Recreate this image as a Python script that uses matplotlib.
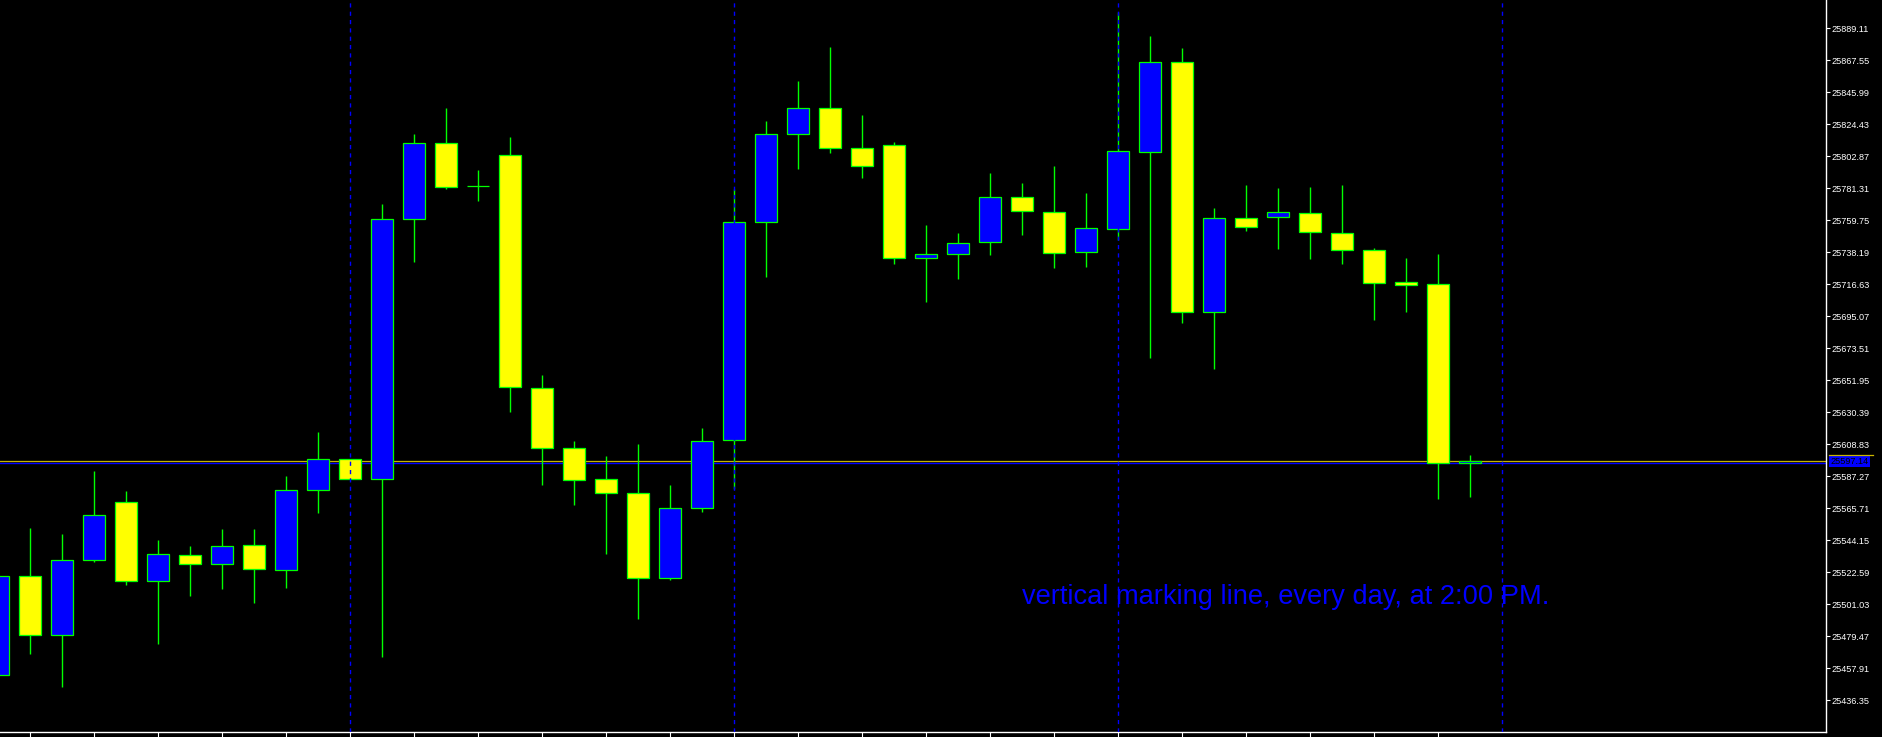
import matplotlib
matplotlib.use("Agg")
import matplotlib.pyplot as plt
from matplotlib.lines import Line2D
import matplotlib.transforms as mtransforms
import numpy as np

plt.rcParams['font.family'] = ['Liberation Sans', 'DejaVu Sans']

# ---- data (bar index -1 .. 45, H2 bars) ----
bar_index = list(range(-1, 46))
opens = [25453.00, 25519.74, 25479.97, 25530.52, 25569.62, 25516.37, 25533.89, 25527.83,
         25540.63, 25523.79, 25577.70, 25598.60, 25585.12, 25760.37, 25811.60, 25782.50,
         25803.51, 25646.46, 25606.02, 25585.12, 25575.69, 25518.39, 25565.57, 25611.41,
         25758.35, 25817.67, 25835.19, 25808.23, 25810.25, 25734.08, 25736.78, 25744.87,
         25775.20, 25765.09, 25738.13, 25754.04, 25805.53, 25866.20, 25697.68, 25761.05,
         25761.72, 25764.42, 25750.94, 25739.47, 25717.91, 25716.56, 25595.91]
highs = [25519.74, 25552.30, 25548.25, 25590.72, 25577.24, 25544.21, 25540.16, 25551.62,
         25551.62, 25587.35, 25617.00, 25598.60, 25770.69, 25817.87, 25835.39, 25793.60,
         25815.85, 25655.42, 25610.94, 25600.83, 25608.92, 25581.28, 25619.70, 25780.59,
         25826.63, 25853.59, 25876.51, 25830.68, 25812.48, 25756.53, 25751.14, 25791.58,
         25784.84, 25796.30, 25778.10, 25900.00, 25883.92, 25875.84, 25767.99, 25783.49,
         25781.47, 25782.14, 25783.49, 25740.82, 25734.29, 25736.98, 25601.50]
lows = [25453.00, 25467.57, 25444.92, 25529.58, 25514.08, 25474.31, 25506.66, 25511.39,
        25501.95, 25512.06, 25562.61, 25585.12, 25465.55, 25731.79, 25781.00, 25772.91,
        25630.69, 25581.48, 25568.00, 25534.98, 25491.16, 25517.45, 25563.28, 25578.38,
        25721.68, 25794.48, 25805.26, 25788.41, 25730.45, 25704.83, 25720.34, 25736.51,
        25749.99, 25727.75, 25728.42, 25746.42, 25667.08, 25690.68, 25659.67, 25752.69,
        25740.35, 25733.61, 25730.45, 25692.70, 25698.10, 25571.84, 25573.37]
closes = [25519.74, 25479.97, 25530.52, 25560.86, 25516.37, 25534.57, 25527.83, 25539.96,
          25524.46, 25577.70, 25598.60, 25585.12, 25760.37, 25811.60, 25782.35, 25782.50,
          25647.13, 25606.02, 25584.44, 25575.69, 25518.39, 25565.57, 25610.74, 25758.35,
          25817.67, 25835.19, 25808.23, 25796.10, 25734.08, 25736.78, 25744.20, 25775.20,
          25765.77, 25737.46, 25754.31, 25806.21, 25866.20, 25697.68, 25761.05, 25754.98,
          25765.09, 25751.61, 25739.47, 25717.23, 25715.88, 25595.91, 25597.14]

price_ticks = [25436.35, 25457.91, 25479.47, 25501.03, 25522.59, 25544.15, 25565.71,
               25587.27, 25608.83, 25630.39, 25651.95, 25673.51, 25695.07, 25716.63,
               25738.19, 25759.75, 25781.31, 25802.87, 25824.43, 25845.99, 25867.55,
               25889.11]
day_marks = [10, 22, 34, 46]          # 14:00 bars
time_ticks = list(range(0, 45, 2))
bid_price = 25597.14
hline_price = 25596.30
note = "vertical marking line, every day, at 2:00 PM."

# ---- figure ----
W, H = 1882, 737
fig = plt.figure(figsize=(W / 100, H / 100), dpi=100, facecolor='black')
ax = fig.add_axes([0, 5 / H, 1826 / W, 732 / H], facecolor='black')

GREEN = '#00FF00'
BLUE = '#0000FF'
YELLOW = '#FFFF00'
GOLD = '#C8B400'

x = np.array(bar_index, dtype=float)
o = np.array(opens); c = np.array(closes)
hi = np.array(highs); lo = np.array(lows)

ax.axhline(hline_price, color=BLUE, lw=1.0, zorder=1)
ax.axhline(bid_price, color=GOLD, lw=0.9, zorder=1.1)

ax.vlines(x, lo, hi, color=GREEN, lw=1.0, zorder=2)
cols = [BLUE if cc >= oo else YELLOW for oo, cc in zip(o, c)]
ax.bar(x, c - o, bottom=o, width=0.6875, color=cols, edgecolor=GREEN,
       linewidth=0.9, zorder=3)

for d in day_marks:
    ax.axvline(d, color=BLUE, lw=1.0, linestyle=(0, (3, 3)), zorder=4)

ax.text(1022 / 1826, (732 - 604) / 732, note, transform=ax.transAxes,
        color=BLUE, fontsize=19.6, va='baseline', ha='left', zorder=5)

ax.set_xlim((0 - 30.3) / 32, (1826 - 30.3) / 32)
ax.set_ylim(25414.79, 25908.19)

ax.yaxis.tick_right()
ax.set_yticks(price_ticks)
ax.set_yticklabels([f"{v:.2f}" for v in price_ticks])
ax.tick_params(axis='y', colors='white', labelcolor='white', length=3, width=0.8,
               labelsize=6.6, pad=1.2)
ax.set_xticks(time_ticks)
ax.set_xticklabels([])
ax.tick_params(axis='x', colors='white', length=3.6, width=0.8, direction='out')

for s in ['left', 'top']:
    ax.spines[s].set_visible(False)
for s in ['right', 'bottom']:
    ax.spines[s].set_color('white')
    ax.spines[s].set_linewidth(1.0)

# bid price label
trans = mtransforms.blended_transform_factory(ax.transAxes, ax.transData)
ax.annotate(f"{bid_price:.2f}", xy=(1.0, bid_price), xycoords=trans,
            xytext=(3.2, 0), textcoords='offset points', ha='left', va='center',
            fontsize=6.6, color='black', annotation_clip=False,
            bbox=dict(boxstyle='square,pad=0.15', facecolor=BLUE, edgecolor='none'))
fig.add_artist(Line2D([1829 / W, 1873 / W], [(H - 455) / H] * 2, color=GOLD, lw=0.9))

fig.savefig("out.png", dpi=100, facecolor='black')
